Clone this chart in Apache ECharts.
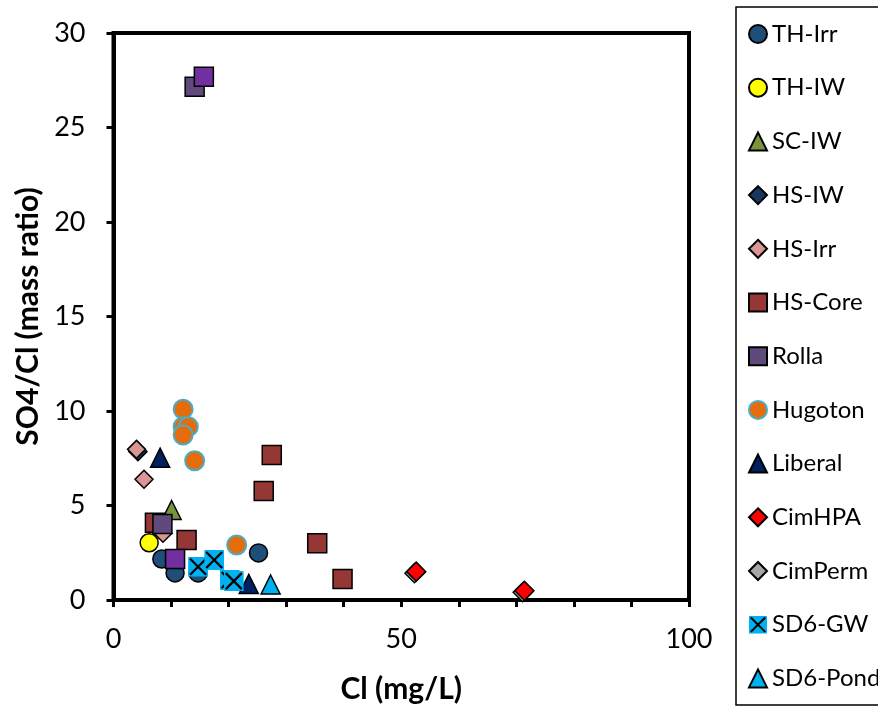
<!DOCTYPE html>
<html>
<head>
<meta charset="utf-8">
<script src="https://cdn.jsdelivr.net/npm/echarts@6/dist/echarts.min.js"></script>
<style>
html, body { margin: 0; padding: 0; background: #fff; }
#chart { width: 878px; height: 708px; }
</style>
</head>
<body>
<div id="chart"></div>
<script>
// Cl (mg/L) , SO4/Cl mass ratio
const thIrr = [[8.4, 2.17], [10.7, 1.43], [14.7, 1.43], [25.2, 2.49]];
const thIw = [[6.2, 3.03]];
const scIw = [[10.1, 4.76]];
const hsIw = [[4.25, 7.85]];
const hsIrr = [[4.0, 7.97], [5.3, 6.39], [8.6, 3.53]];
const hsCore = [[7.2, 4.09], [12.7, 3.17], [27.5, 7.67], [26.1, 5.77], [35.4, 3.0], [39.8, 1.11]];
const rollaA = [[14.1, 27.16], [8.5, 4.02]];
const rollaB = [[15.7, 27.69], [10.7, 2.17]];
const hugoton = [[12.1, 10.09], [12.1, 9.17], [13.0, 9.17], [12.1, 8.73], [14.1, 7.37], [21.4, 2.91]];
const liberal = [[8.1, 7.53], [23.5, 0.85]];
const cimHpa = [[52.6, 1.5], [71.4, 0.49]];
const cimPerm = [[52.3, 1.42], [71.1, 0.41]];
const sd6Gw = [[14.7, 1.76], [17.5, 2.12], [20.2, 1.06], [20.9, 1.0]];
const sd6Pond = [[27.3, 0.82]];

const xTicks = [0, 50, 100];

const font = 'Lato';

const gwSvg = "<svg xmlns='http://www.w3.org/2000/svg' width='20' height='20'>" +
    "<rect width='20' height='20' fill='#00B0F0'/>" +
    "<path d='M2 2L18 18M18 2L2 18' stroke='#000' stroke-width='2.2'/></svg>";
const gwSymbol = 'image://data:image/svg+xml;charset=utf-8,' + encodeURIComponent(gwSvg);

function serie(name, data, symbol, size, color, border, borderWidth, z) {
    return {
        name: name,
        type: 'scatter',
        data: data,
        symbol: symbol,
        symbolSize: size,
        z: z || 2,
        itemStyle: { color: color, borderColor: border, borderWidth: borderWidth, opacity: 1 },
        emphasis: { disabled: true }
    };
}

const chart = echarts.init(document.getElementById('chart'));

chart.setOption({
    backgroundColor: '#fff',
    animation: false,
    grid: {
        left: 113.5, right: 189, top: 33, bottom: 108,
        show: true, borderColor: '#000', borderWidth: 4,
        outerBoundsMode: 'none'
    },
    legend: {
        orient: 'vertical',
        left: 748, top: 22,
        padding: 0,
        itemWidth: 18, itemHeight: 18, itemGap: 29.7,
        textStyle: { fontFamily: font, fontSize: 24, color: '#000' },
        data: ['TH-Irr', 'TH-IW', 'SC-IW', 'HS-IW', 'HS-Irr', 'HS-Core', 'Rolla', 'Hugoton',
            'Liberal', 'CimHPA', 'CimPerm', 'SD6-GW', 'SD6-Pond'],
        selectedMode: false
    },
    graphic: [{
        type: 'rect',
        shape: { x: 736, y: 7, width: 150, height: 698 },
        style: { fill: 'none', stroke: '#000', lineWidth: 1.5 },
        silent: true
    }],
    xAxis: {
        type: 'value', min: 0, max: 100, interval: 10,
        name: 'Cl (mg/L)', nameLocation: 'middle', nameGap: 74,
        nameTextStyle: { fontFamily: font, fontSize: 30, fontWeight: 'bold', color: '#000' },
        axisLine: { show: true, onZero: false, lineStyle: { color: '#000', width: 4 } },
        axisTick: { show: true, inside: false, length: 7, lineStyle: { color: '#000', width: 3 } },
        axisLabel: {
            fontFamily: font, fontSize: 27, color: '#000', margin: 26,
            formatter: v => xTicks.includes(v) ? String(v) : ''
        },
        splitLine: { show: false }
    },
    yAxis: {
        type: 'value', min: 0, max: 30, interval: 5,
        name: 'SO4/Cl (mass ratio)', nameLocation: 'middle', nameGap: 70,
        nameTextStyle: { fontFamily: font, fontSize: 30, fontWeight: 'bold', color: '#000' },
        axisLine: { show: true, lineStyle: { color: '#000', width: 4 } },
        axisTick: { show: true, inside: false, length: 7, lineStyle: { color: '#000', width: 3 } },
        axisLabel: { fontFamily: font, fontSize: 27, color: '#000', margin: 28 },
        splitLine: { show: false }
    },
    series: [
        serie('TH-Irr', thIrr, 'circle', 18, '#1F4E79', '#000', 1.5),
        serie('TH-IW', thIw, 'circle', 18, '#FFFF00', '#000', 1.5),
        serie('SC-IW', scIw, 'triangle', 19, '#77933C', '#000', 1.5),
        serie('HS-IW', hsIw, 'diamond', 18, '#17375E', '#000', 1.5),
        serie('HS-Irr', hsIrr, 'diamond', 18, '#D99694', '#000', 1.5),
        serie('HS-Core', hsCore, 'rect', 19, '#953735', '#000', 1.5),
        serie('Rolla', rollaA, 'rect', 19, '#604A7B', '#000', 1.5),
        serie('Rolla', rollaB, 'rect', 19, '#7030A0', '#000', 1.5),
        serie('Hugoton', hugoton, 'circle', 19, '#E46C0A', '#4BACC6', 2),
        serie('Liberal', liberal, 'triangle', 19, '#002060', '#000', 1.5),
        serie('CimHPA', cimHpa, 'diamond', 19, '#FF0000', '#000', 1.5),
        serie('CimPerm', cimPerm, 'diamond', 19, '#A6A6A6', '#000', 1.5, 1),
        serie('SD6-GW', sd6Gw, gwSymbol, 20, '#00B0F0', '#00B0F0', 0),
        serie('SD6-Pond', sd6Pond, 'triangle', 19, '#00B0F0', '#000', 1.5)
    ]
});
</script>
</body>
</html>
